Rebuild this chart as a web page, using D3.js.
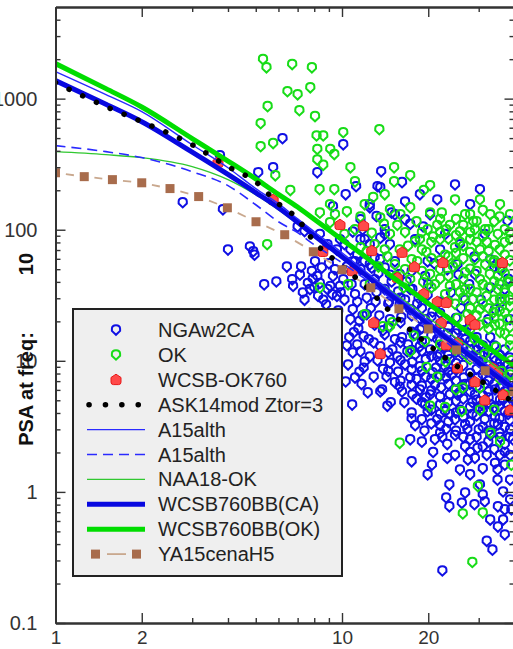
<!DOCTYPE html>
<html><head><meta charset="utf-8">
<script src="https://cdn.jsdelivr.net/npm/d3@7"></script>
<style>body{margin:0;background:#fff}svg{display:block}</style>
</head><body><svg id="c" width="513" height="649"></svg>
<script>
// ---------------- DATA ----------------
const xMajorTicks = [1, 2, 10, 20];
const xMinorTicks = [3, 4, 5, 6, 7, 8, 9, 30, 40];
const yMajorTicks = [0.1, 1, 10, 100, 1000];
const yMajorLabels = ["0.1", "1", "10", "100", "1000"];
const yMinorTicks = [0.2,0.3,0.4,0.5,0.6,0.7,0.8,0.9,2,3,4,5,6,7,8,9,20,30,40,50,60,70,80,90,200,300,400,500,600,700,800,900,2000,3000,4000];

const seriesNames = ["NGAw2CA","OK","WCSB-OK760","ASK14mod Ztor=3","A15alth","A15alth","NAA18-OK","WCSB760BB(CA)","WCSB760BB(OK)","YA15cenaH5"];

// model curves (distance km, PSA)
const curveDist = [1,1.5,2,3,4,5,6,7,8,10,12,15,20,25,30,40];
const ask14 = [1325,869,667,445,303,232,158,121,81,53.1,37.4,22.8,13.3,9.2,7.2,4.8];
const a15Solid = [1607,1073,796,445,297,206,158,121,96.6,66.7,48.6,33.0,20.2,14.0,10.4,6.45];
const a15Dashed = [438,394,355,277,217,155,115,94.9,76.8,56,42.3,29.2,17.9,12.1,9.0,5.7];
const naa18 = [394,374,355,303,241,185,142,111,90,63.3,47.8,33.6,21.3,15,11.3,7.0];
const wcsbCA = [1372,905,667,391,264,192,147,114,90.3,62.2,45.7,31.2,19.2,13.2,9.7,6.05];
const wcsbOK = [1850,1192,864,496,334,244,186,149,120,84,62.8,43.6,27.4,19.2,14.3,9.1];
const ya15Dist = [1,1.26,1.58,2.0,2.51,3.16,3.98,5.01,6.31,7.94,10,12.6,15.8,20,25.1,31.6,39.8];
const ya15 = [272,254,241,228,206,179,147,115,91.6,67.9,49.5,36.1,24.9,17.5,12.1,8.4,5.8];

// observations [distance km, PSA]
const ngaw2ca = [
[2.78,161],[3.84,142],[4.0,70],[4.77,74],[4.95,64],[3.75,367],
[5.1,272],[5.75,297],[6.2,495],[5.35,38],[5.9,40],[6.42,52],[6.75,37],[7.13,45],[4.9,68],[6.7,41.5],[7.4,97],[7.0,105],
[7.6,39],[7.85,48],[8.2,44],[8.25,31],[8.37,39],[8.9,35],[9.1,37],[9.25,32],[9.6,31],[9.84,37],[7.73,35],[8.5,51],[9.45,49.5],[10.1,41.5],[8.8,26.7],[7.4,29],[8.05,57],[10.2,29],
[8.2,272],[9.3,150],[10.3,185],[10.1,445],[8.37,92],[8.9,77],[9.6,70],[9.84,84],
[11.2,213],[13.3,213],[12.5,155],[11.6,119],[13.7,277],[13.6,209],[15.3,130],[14.1,100],[12,84],[14.7,77],[10.9,96],
[10.9,57],[11.6,49.5],[12.5,54],[13,41.5],[14.1,35],[14.7,45],[15.7,33.5],[12,38],[11.1,32],[13.6,59],
[10.9,24.5],[11.5,20],[12.2,22.5],[11,16.4],[11.9,15.3],[12.9,13.7],[12.5,10.7],[13.6,12.8],[11.6,11.7],[11.9,8.8],[12.9,7.5],[14.3,7.5],[13.6,5.8],[15.6,10.7],[15.9,6.3],[10.85,4.6],[12.3,5.7],[13.8,6.0],[14.4,4.5],[14.8,4.8],[10.7,20.6],[13,18.7],[14.7,20.6],[14.1,15.8],[15.3,14.5],[11.3,13.2],[10.5,9.3],[10.3,6.9],[11.1,7.4],[11.7,6.6],
[16.2,229],[16.6,163],[19.2,105],[18,84],[20.3,130],[22,70],[19.9,57],[22.9,92],[17.3,110],[18.7,185],[21.5,169],[23.3,49.5],
[16.6,29],[17.3,24.5],[18.3,27],[19.5,20.6],[20.7,23.5],[22,19],[23.3,16],[17.6,35],[18.7,17.2],[21.5,14.5],[22.9,20.6],[16.1,21.4],[19.9,31.5],
[16.9,11.7],[17.6,9.7],[18.7,12.8],[19.6,10.2],[20.7,8.1],[22,11.2],[22.9,9.0],[21.1,6.5],[23.1,7.4],[17.3,7.4],[18.7,6.0],[16.2,5.8],[16.5,4.8],[17.5,4.0],[18.2,5.1],[19.6,5.2],[19.9,4.1],[21.5,3.55],[22,3.2],[23.1,3.0],[22.4,2.6],[19.4,2.9],[20.8,2.0],[17.5,1.7],[20.6,1.6],[19.9,1.35],[23.3,1.8],[23.7,1.13],[23.1,0.9],[22.4,0.25],[20.3,5.5],[22,4.6],[19,3.55],[17.3,2.5],[23.8,3.9],[23.8,5.5],[18.2,7.2],[16.6,9.3],[18,3.2],[21.1,2.5],[23.3,2.3],
[24.8,220],[28,155],[30.3,202],[37.8,116],[25.8,77],[32.9,59],[37,35],[26.9,29],[29.1,45.5],[34.2,24.5],[31.5,92],[35.6,49.5],[38.6,20.6],[25.3,54],[32.4,20.6],
[24.8,13.2],[26.3,11.2],[28,12.1],[30,9.8],[31.6,8.5],[33.8,7.8],[35.6,8.9],[37,7.0],[38.6,8.2],[26.9,14.5],[30.3,13.2],[33.2,11.2],[25.3,17.2],
[24.8,6.0],[26.9,6.6],[29.1,5.5],[32.4,5.8],[35.6,5.0],[38.6,5.5],[24.8,2.7],[27.4,3.0],[28,2.5],[26.9,2.2],[29.7,2.15],[29.1,1.8],[32,1.9],[31,1.5],[34.2,1.65],[34.9,1.23],[36.5,1.0],[38.6,1.23],[26.2,0.82],[26.9,0.98],[29,0.8],[31,0.95],[31.5,0.84],[35,0.77],[35,0.54],[36.5,0.61],[32,0.42],[33.5,0.36],[37,0.47],[23.7,0.77],[25.8,4.2],[28.5,3.9],[31.5,3.55],[35,3.25],[38,3.9],[32.9,2.7],[37,2.3],[25.8,1.47],[28,1.35],[38.6,1.9],[37,1.6],[33,4.6],[30,4.4],[38.6,2.97],[35.6,2.6],[39,0.73],[32.9,0.61],[25.3,5.5],
[16.2,15],[17,13.2],[18,15.8],[19,14],[20.3,12.1],[21.5,10.7],[22.5,12.5],[23.8,10.2],[25,8.5],[26.6,7.4],[28,6.6],[29.8,7.4],[31.5,6.6],[34.2,6.0],[36.5,5.0],[38,4.6],[18.7,9.0],[19.6,7.5],[21.3,8.8],[24.2,7.8],[22.2,6.2],[25.8,5.7],[28.5,4.8],[31,4.2],[34.2,3.7],[38.6,4.2],[18,11.1],[15.7,8.2],[15,12.1],[14.7,9.6],[15.3,6.8],[17.6,5.5],[19.5,4.6],[22.9,4.1],[24.8,3.55],[26.9,3.25],[30,2.97],[32.4,2.4],[35.6,1.9],[39.5,2.5],[24.8,1.9],[27.5,1.75],[30.3,1.13],[34.9,1.47],[38.6,0.87],[37,0.73],
[15.9,26.7],[18.7,21],[22,17.2],[25.8,13.7],[30.3,11.1],[35.6,9.8],[28,18.7],[32.9,15],[37,12.1],[25,21],
[10.2,77],[10.7,70],[11.3,64],[12,57],[12.7,51],[13.4,46],[14.1,51],[14.9,40],[11.6,84],[12.5,77],[13.6,86],[13,61],[15.3,57],[15.9,45.5],[17.3,35],[11.8,100],[11.1,57],
[12.5,147],[13.2,126],[14.9,134],[16.6,119],[14.1,92],
[14.5,27],[14.5,18],[14.5,11.5],[14.5,8.3],
[16,30],[16,19.5],[16,13.8],[16,10],[16,7],
[17.5,22],[17.5,16.5],[17.5,12],[17.5,8.5],[17.5,6.5],[17.5,3.6],
[19,25],[19,17.7],[19,11.8],[19,8.3],[19,6.4],[19,4.8],[19,2.4],
[20.5,21.5],[20.5,15.5],[20.5,10.8],[20.5,7.2],[20.5,5.9],[20.5,4.2],[20.5,3.3],
[22,23],[22,14.2],[22,9.8],[22,7.7],[22,5.3],[22,3.9],[22,2.8],
[23.5,18],[23.5,13.8],[23.5,11],[23.5,8.2],[23.5,6.6],[23.5,4.8],[23.5,3.4],
[25,16],[25,11.6],[25,9.5],[25,7],[25,4.9],[25,4.0],[25,2.9],
[26.5,17],[26.5,12.6],[26.5,9.2],[26.5,6.1],[26.5,5.1],[26.5,3.7],[26.5,2.6],
[28,14],[28,10.8],[28,8.0],[28,5.8],[28,4.4],[28,3.4],[28,2.0],
[29.5,15],[29.5,12],[29.5,8.6],[29.5,6.3],[29.5,5.0],[29.5,3.8],[29.5,2.6],
[31,13],[31,10],[31,7.8],[31,5.4],[31,4.6],[31,3.1],[31,2.2],
[32.5,11.8],[32.5,9.2],[32.5,7.0],[32.5,5.2],[32.5,4.1],[32.5,2.9],
[34,13],[34,10.5],[34,8.3],[34,6.6],[34,4.4],[34,3.3],[34,2.1],
[35.5,11],[35.5,8.0],[35.5,6.2],[35.5,4.5],[35.5,3.6],[35.5,2.8],
[37,9.5],[37,7.6],[37,5.8],[37,4.1],[37,3.1],[37,2.0],
[38.5,10.5],[38.5,7.0],[38.5,5.2],[38.5,3.5],[38.5,2.6],
[13.2,33],[14.6,28],[16.8,40],[18.5,30],[20,38],[21.8,28],[24,33],[26,25],[27.8,38],[30.5,29],[33,36],[36,28],[38,42],[21,55],[25.5,45],[29,62],[34,52],[17.5,48],[19.5,44],
[10.4,52],[10.8,38],[11.3,28],[11.8,22],[12.2,30],[12.6,25],[13.1,28],[13.5,22],[13.9,17],[10.6,15],[11.4,17.5],[12.4,14.5],[13.3,10],[12,9.8],[10.9,11.5],[11.5,8.2],[13.9,8.6],[10.4,13],
[7.3,33],[7.9,42],[8.6,29],[9.3,44],[9.9,33],[8.0,36],[7.2,52],[9.0,55],[7.7,23],[8.9,22],[9.7,24]
];

const okData = [
[5.3,1990],[5.45,1720],[6.7,1820],[7.85,1720],[6.45,1130],[7.0,1070],[7.75,1210],[5.5,870],[7.1,810],[8.05,730],[5.2,645],[8.15,520],[8.6,520],[10.1,550],[13.5,580],[5.2,430],[5.75,455],[8.2,410],[9.1,410],[9.4,375],[8.2,340],[8.6,310],[10.7,297],[5.85,258],[15.2,297],[17.3,258],[11.1,232],[15.2,232],[6.6,199],[8.35,202],[9.4,202],[19.3,199],[20.3,217],[12.85,176],[14.1,185],
[9.08,155],[8.37,134],[14.7,142],[20.3,134],[22.3,134],[29.1,100],[20.8,88],[18,81],[25.8,80],[32,80],[28,67],[33.8,56],[24.4,52],[26.9,47],[30.3,41.5],[35,44],[37.8,39.5],[23.8,37],[25.8,33],[28.7,29.2],[32,31],[35.6,29.2],[38.6,25.8],[30.3,24.5],[33.8,23.3],[37.8,20.6],[27.4,22.5],[32,19.5],[35.6,16.4],[19.7,67],[17.5,59],[16.6,95],[15.6,108],[18.2,115],[21.5,108],[23.1,100],[13.6,123],[11.6,125],[10.4,137],[12.7,94],[14.1,70],[17.3,41.5],[19.2,39.5],
[22.9,64],[24.8,73],[28,84],[30.3,70],[34.2,76],[37,64],[38.6,84],[32.8,45.5],[36.3,49.5],[39.5,34.8],[22,49.5],[21.1,38],[22.9,32],[24.8,27],[26.9,34.8],[29.1,59],[31.6,54],[35,34.8],[37,29.2],[28,17.2],[30.3,18.7],[38.6,14.5],[34.2,18.7],[25.3,21],[37,100],[32.9,130],[35.6,155],[26.9,130],[24.8,169],[30.3,169],[38.6,130],[18.7,84],[19.9,100],[15.9,70],[15.3,54],[16.6,49.5],[18.3,57],[20.3,45.5],[22,84],[23.8,108],[25.8,96],[28.7,115],[31.6,100],[35,92],[12,155],[11.1,100],[13,77],[10.2,92],[11.6,73],[9.45,130],[14.7,92],[17.3,147],[9.08,113],
[12,22.5],[14.7,18.2],[17.3,11.7],[19.7,8.9],[25,6.0],[21.5,7.5],[30.3,6.2],[8.37,36],[10.5,38],[13.9,18.2],[15,19.5],[20.3,4.5],[22.9,4.4],[26.4,6.2],[26.2,4.1],[30.3,4.2],[33,2.8],[35.6,2.4],[15.9,2.35],[29.8,1.1],[26.4,0.68],[31,0.69],[28.5,0.29],[39,1.6],[34,4.2],[5.48,77],[22,13.2],[28,10.2],[35.6,7.2],[24.8,12.1],[31.5,11.2],[37,5.5],[38.6,7.8],
[19,48],[19,70],[19,95],[20.5,60],[20.5,80],[20.5,36],
[22,42],[22,58],[22,95],[22,120],[23.5,44],[23.5,62],[23.5,85],[23.5,28],
[25,38],[25,55],[25,66],[25,90],[25,120],[26.5,30],[26.5,42],[26.5,60],[26.5,75],[26.5,108],
[28,25],[28,35],[28,50],[28,95],[28,130],[29.5,22],[29.5,33],[29.5,48],[29.5,80],[29.5,115],
[31,27],[31,38],[31,62],[31,88],[31,140],[32.5,17.5],[32.5,25],[32.5,36],[32.5,68],[32.5,100],
[34,21],[34,29],[34,40],[34,58],[34,115],[35.5,19],[35.5,24],[35.5,38],[35.5,55],[35.5,70],[35.5,125],
[37,16],[37,23],[37,33],[37,46],[37,80],[38.5,13],[38.5,18],[38.5,29],[38.5,40],[38.5,58],[38.5,95],
[12.5,38],[13.4,52],[14.4,62],[15.5,44],[16.4,36],[17,75],[14,110],[12.2,68],[16,130],
[19.5,14],[23,9.8],[27,11.2],[32,9.2],[36,8.3],[39,10],[17.8,15.5],[29,14.5],[34.5,12.7]
];

const wcsbOK760 = [
[3.69,325],[5.75,169],[8.57,68],[9.84,109],[11.9,107],[12.7,69],[16.2,67],[17.9,52],[22.5,56],[36.3,56],[15.6,43],[10.85,48.5],[19.3,32.5],[21.5,28.2],[23.1,27.8],[12.9,19.5],[13.6,11.3],[23.1,13.2],[28,20.6],[29.1,18.9],[22.2,19.5],[25.3,8.8],[33.5,8.8],[34.9,8.1],[29.1,6.9],[36.5,5.5],[38.6,4.2],[31.5,5.0],[25.3,13.7]
];

// ---------------- LAYOUT ----------------
const L = 55.5, R = 514.5, T = 7, B = 623;
const FONT = "'Liberation Sans', Arial, Helvetica, sans-serif";
const svg = d3.select("#c");
const x = d3.scaleLog().domain([1, 40]).range([L, R]);
const y = d3.scaleLog().domain([0.1, 5000]).range([B, T]);

svg.append("defs").append("clipPath").attr("id", "pc")
  .append("rect").attr("x", L).attr("y", T).attr("width", R - L).attr("height", B - T);
const plot = svg.append("g").attr("clip-path", "url(#pc)");

const hollow = "M0,-4.7C2.9,-4.7 4.1,-3.5 4.1,-1.2L4.1,0.9L0,4.8L-4.1,0.9L-4.1,-1.2C-4.1,-3.5 -2.9,-4.7 0,-4.7Z";
const house = "M0,-5.6L5,-2.3L5,2.4Q5,4.8 2.6,4.8L-2.6,4.8Q-5,4.8 -5,2.4L-5,-2.3Z";

const BLUE = "#1010e4", GREEN = "#18dc18", RED = "#ff4a4a", BROWN = "#a86c4c";

function markers(data, path, stroke, fill, sw) {
  plot.append("g").selectAll("path").data(data).join("path")
    .attr("d", path)
    .attr("transform", d => `translate(${x(d[0])},${y(d[1])})`)
    .attr("fill", fill).attr("stroke", stroke).attr("stroke-width", sw);
}
markers(ngaw2ca, hollow, BLUE, "none", 2);
markers(okData, hollow, GREEN, "none", 2);
markers(wcsbOK760, house, "#e81818", RED, 1);

const line = d3.line().x(d => x(d[0])).y(d => y(d[1])).curve(d3.curveMonotoneX);
function curve(dist, vals, style) {
  const p = plot.append("path").attr("d", line(dist.map((d, i) => [d, vals[i]])))
    .attr("fill", "none");
  Object.entries(style).forEach(([k, v]) => p.attr(k, v));
}
const styles = {
  ask: {stroke: "#000", "stroke-width": 5.5, "stroke-dasharray": "0.1,15", "stroke-linecap": "round"},
  a15s: {stroke: "#2a2aff", "stroke-width": 1.4},
  a15d: {stroke: "#2a2aff", "stroke-width": 1.6, "stroke-dasharray": "10,6"},
  naa: {stroke: "#30c830", "stroke-width": 1.4},
  ca: {stroke: "#0808e0", "stroke-width": 5},
  ok: {stroke: "#00dd00", "stroke-width": 5}
};

// brown YA15 : dashed connectors + squares
const ya = ya15Dist.map((d, i) => [x(d), y(ya15[i])]);
for (let i = 0; i < ya.length - 1; i++) {
  const a = ya[i], b = ya[i + 1];
  plot.append("line")
    .attr("x1", a[0] + (b[0] - a[0]) * 0.36).attr("y1", a[1] + (b[1] - a[1]) * 0.36)
    .attr("x2", a[0] + (b[0] - a[0]) * 0.64).attr("y2", a[1] + (b[1] - a[1]) * 0.64)
    .attr("stroke", "#c9a88e").attr("stroke-width", 1.8);
}
curve(curveDist, naa18, styles.naa);
curve(curveDist, a15Dashed, styles.a15d);
curve(curveDist, wcsbCA, styles.ca);
curve(curveDist, a15Solid, styles.a15s);
curve(curveDist, wcsbOK, styles.ok);
curve(curveDist, ask14, styles.ask);
plot.append("g").selectAll("rect").data(ya).join("rect")
  .attr("x", d => d[0] - 4.5).attr("y", d => d[1] - 4.5)
  .attr("width", 9).attr("height", 9).attr("fill", BROWN);

// ---------------- AXES ----------------
function axis(gen, tr, vals, size, fmt, pad, fs) {
  const a = gen.tickValues(vals).tickSizeInner(size).tickSizeOuter(0).tickPadding(pad).tickFormat(fmt);
  const g = svg.append("g").attr("transform", tr).call(a);
  g.selectAll("path.domain").attr("stroke", "#333").attr("stroke-width", 2);
  g.selectAll(".tick line").attr("stroke", "#333").attr("stroke-width", 1.4);
  g.selectAll("text").attr("font-family", FONT).attr("font-size", fs || 20).attr("fill", "#333");
  return g;
}
const xf = d => xMajorTicks.includes(d) ? String(d) : "";
axis(d3.axisBottom(x), `translate(0,${B})`, xMajorTicks, -10, xf, 8, 19);
axis(d3.axisBottom(x), `translate(0,${B})`, xMinorTicks, -5, () => "", 8);
axis(d3.axisTop(x), `translate(0,${T})`, xMajorTicks, -10, () => "", 3);
axis(d3.axisTop(x), `translate(0,${T})`, xMinorTicks, -5, () => "", 3);
axis(d3.axisLeft(y), `translate(${L},0)`, yMajorTicks, -10, d => yMajorLabels[yMajorTicks.indexOf(d)], 18);
axis(d3.axisLeft(y), `translate(${L},0)`, yMinorTicks, -5, () => "", 18);
axis(d3.axisRight(y), `translate(${R},0)`, yMajorTicks, -10, () => "", 3);
axis(d3.axisRight(y), `translate(${R},0)`, yMinorTicks, -5, () => "", 3);

// y title
svg.append("text").attr("transform", "translate(33,389) rotate(-90)")
  .attr("text-anchor", "middle").attr("font-family", FONT).attr("font-weight", "bold")
  .attr("font-size", 20).attr("fill", "#111").text("PSA at freq:");
svg.append("text").attr("transform", "translate(33,264) rotate(-90)")
  .attr("text-anchor", "middle").attr("font-family", FONT).attr("font-weight", "bold")
  .attr("font-size", 20).attr("fill", "#111").text("10");

// ---------------- LEGEND ----------------
const lg = svg.append("g");
lg.append("rect").attr("x", 73).attr("y", 309).attr("width", 269).attr("height", 267)
  .attr("fill", "#efefef").attr("stroke", "#222").attr("stroke-width", 2);
const ly0 = 330, lstep = 24.9, lx1 = 87, lx2 = 145, lxm = 116, ltx = 158;
seriesNames.forEach((name, i) => {
  const cy = ly0 + i * lstep;
  const item = lg.append("g");
  if (i === 0 || i === 1) {
    item.append("path").attr("d", hollow).attr("transform", `translate(${lxm},${cy})`)
      .attr("fill", "none").attr("stroke", i === 0 ? BLUE : GREEN).attr("stroke-width", 2);
  } else if (i === 2) {
    item.append("path").attr("d", house).attr("transform", `translate(${lxm},${cy})`)
      .attr("fill", RED).attr("stroke", "#e81818").attr("stroke-width", 1);
  } else if (i === 9) {
    item.append("rect").attr("x", 91).attr("y", cy - 4.5).attr("width", 9).attr("height", 9).attr("fill", BROWN);
    item.append("rect").attr("x", 132).attr("y", cy - 4.5).attr("width", 9).attr("height", 9).attr("fill", BROWN);
    item.append("line").attr("x1", 107).attr("x2", 126).attr("y1", cy).attr("y2", cy)
      .attr("stroke", "#c9a88e").attr("stroke-width", 1.8);
  } else {
    const st = [null, null, null, styles.ask, styles.a15s, styles.a15d, styles.naa, styles.ca, styles.ok][i];
    const ln = item.append("line").attr("x1", i === 3 ? 89 : lx1).attr("x2", lx2).attr("y1", cy).attr("y2", cy);
    Object.entries(st).forEach(([k, v]) => ln.attr(k, v));
    if (i === 3) ln.attr("stroke-dasharray", "0.1,16.3");
  }
  item.append("text").attr("x", ltx).attr("y", cy + 7).attr("font-family", FONT)
    .attr("font-size", 20).attr("fill", "#222").text(name);
});
</script>
</body></html>
